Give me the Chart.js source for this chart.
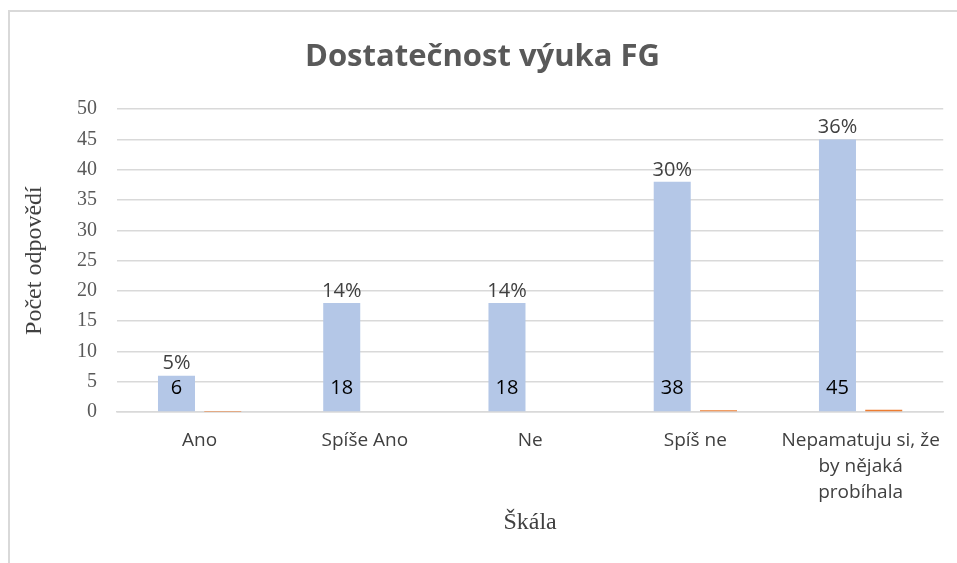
<!DOCTYPE html>
<html>
<head>
<meta charset="utf-8">
<script src="https://cdn.jsdelivr.net/npm/chart.js@4"></script>
<style>
    html, body { margin: 0; padding: 0; background: #ffffff; }
    #wrap { position: relative; width: 957px; height: 563px; }
    #frame { position: absolute; left: 8px; top: 10px; right: 0; bottom: 0;
             border-left: 2px solid #d9d9d9; border-top: 2px solid #d9d9d9; }
    #chart { position: absolute; left: 0; top: 0; }
</style>
</head>
<body>
<div id="wrap">
    <div id="frame"></div>
    <canvas id="chart" width="957" height="563"></canvas>
</div>
<script>
// Chart data
const categories = ['Ano', 'Spíše Ano', 'Ne', 'Spíš ne', ['Nepamatuju si, že', 'by nějaká', 'probíhala']];
const counts = [6, 18, 18, 38, 45];
const shares = [0.05, 0.14, 0.14, 0.30, 0.36];
const shareLabels = ['5%', '14%', '14%', '30%', '36%'];
const yTicks = [0, 5, 10, 15, 20, 25, 30, 35, 40, 45, 50];

const sansFont = "'Open Sans', 'Noto Sans', sans-serif";
const serifFont = "'Liberation Serif', 'DejaVu Serif', serif";

// Draws the count inside each blue bar and the share above it
const barLabels = {
    id: 'barLabels',
    afterDatasetsDraw(chart) {
        const ctx = chart.ctx;
        const meta = chart.getDatasetMeta(0);
        const yScale = chart.scales.y;
        ctx.save();
        ctx.textAlign = 'center';
        ctx.textBaseline = 'middle';
        meta.data.forEach((bar, i) => {
            ctx.font = '20px ' + sansFont;
            ctx.fillStyle = '#000000';
            ctx.fillText(String(counts[i]), bar.x, yScale.getPixelForValue(0) - 24);
            ctx.fillStyle = '#404040';
            ctx.fillText(shareLabels[i], bar.x, bar.y - 12);
        });
        ctx.restore();
    }
};

const ctx = document.getElementById('chart').getContext('2d');
new Chart(ctx, {
    type: 'bar',
    data: {
        labels: categories,
        datasets: [{
            label: 'Počet',
            data: counts,
            backgroundColor: '#b4c7e7',
            barPercentage: 0.8,
            categoryPercentage: 0.56
        }, {
            label: 'Podíl',
            data: shares,
            backgroundColor: '#ed7d31',
            barPercentage: 0.8,
            categoryPercentage: 0.56
        }]
    },
    options: {
        responsive: false,
        animation: false,
        layout: { padding: { left: 20, right: 12, top: 0, bottom: 26 } },
        plugins: {
            legend: { display: false },
            tooltip: { enabled: false },
            title: {
                display: true,
                text: 'Dostatečnost výuka FG',
                color: '#595959',
                font: { family: sansFont, size: 31, weight: 'bold', lineHeight: 1.2 },
                padding: { top: 39, bottom: 33 }
            }
        },
        scales: {
            y: {
                min: 0,
                max: 50,
                afterFit: (scale) => { scale.width = 97; },
                afterBuildTicks: (scale) => { scale.ticks = yTicks.map(v => ({ value: v })); },
                border: { display: false },
                grid: { color: '#d9d9d9', lineWidth: 1.5, drawTicks: false },
                ticks: {
                    color: '#595959',
                    padding: 20,
                    font: { family: serifFont, size: 20 }
                },
                title: {
                    display: true,
                    text: 'Počet odpovědí',
                    color: '#404040',
                    font: { family: serifFont, size: 24 },
                    padding: 0
                }
            },
            x: {
                afterFit: (scale) => { scale.height = 125; },
                border: { color: '#d9d9d9', width: 1.5 },
                grid: { display: false, drawTicks: false },
                ticks: {
                    color: '#404040',
                    padding: 16,
                    maxRotation: 0,
                    autoSkip: false,
                    font: { family: sansFont, size: 19, lineHeight: 1.37 }
                },
                title: {
                    display: true,
                    text: 'Škála',
                    color: '#404040',
                    font: { family: serifFont, size: 24 },
                    padding: 0
                }
            }
        }
    },
    plugins: [barLabels]
});
</script>
</body>
</html>
